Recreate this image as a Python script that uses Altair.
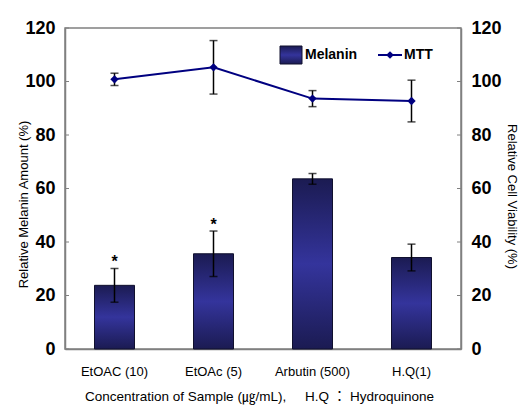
import altair as alt
import pandas as pd

categories = ["EtOAC (10)", "EtOAc (5)", "Arbutin (500)", "H.Q(1)"]
melanin = [23.8, 35.6, 63.6, 34.2]
melanin_err = [6.3, 8.5, 2.0, 5.0]
mtt = [100.8, 105.3, 93.6, 92.7]
mtt_err = [2.3, 10.0, 3.0, 7.8]
significant = ["*", "*", "", ""]
y_ticks = [0, 20, 40, 60, 80, 100, 120]

df = pd.DataFrame({
    "cat": categories,
    "melanin": melanin,
    "mel_lo": [m - e for m, e in zip(melanin, melanin_err)],
    "mel_hi": [m + e for m, e in zip(melanin, melanin_err)],
    "mtt": mtt,
    "mtt_lo": [m - e for m, e in zip(mtt, mtt_err)],
    "mtt_hi": [m + e for m, e in zip(mtt, mtt_err)],
    "sig": significant,
})
ticks_df = pd.DataFrame({"v": y_ticks})

NUM_FONT = "Liberation Sans, Arial"
TXT_FONT = "Liberation Sans, Noto Sans CJK KR, Arial"
AX = "#808080"
NAVY = "#000080"
NB = "\u00a0"

grad = alt.Gradient(
    gradient="linear", x1=0, x2=0, y1=0, y2=1,
    stops=[alt.GradientStop(color="#1b1b52", offset=0),
           alt.GradientStop(color="#34349c", offset=0.5),
           alt.GradientStop(color="#1b1b52", offset=1)],
)

yscale = alt.Scale(domain=[0, 120], nice=False, zero=True)

xenc = alt.X(
    "cat:N", sort=categories,
    scale=alt.Scale(paddingInner=0, paddingOuter=0),
    axis=alt.Axis(
        title="Concentration of Sample (㎍/mL)," + NB * 5 + "H.Q" + NB + "：" + NB + "Hydroquinone",
        labelAngle=0, labelFont=TXT_FONT, labelFontSize=13, labelColor="#000",
        labelPadding=16, ticks=False, domainColor=AX, domainWidth=1.5,
        titleFont=TXT_FONT, titleFontSize=13.5, titleFontWeight="normal",
        titleColor="#000", titlePadding=11, titleX=194,
    ),
)

base = alt.Chart(df).encode(x=xenc)

bars = base.mark_bar(size=40, color=grad, stroke="#10102e", strokeWidth=1).encode(
    y=alt.Y("melanin:Q", scale=yscale, axis=alt.Axis(
        title="Relative Melanin Amount (%)", values=y_ticks, ticks=False,
        grid=False, domainColor=AX, domainWidth=1.5,
        labelFont=NUM_FONT, labelFontSize=18, labelFontWeight="bold",
        labelColor="#000", labelPadding=10,
        titleFont=TXT_FONT, titleFontSize=13, titleFontWeight="normal",
        titleColor="#000", titleX=-42, titleY=176, titleBaseline="middle",
    ))
)
mel_rule = base.mark_rule(color="#000", strokeWidth=1.5).encode(
    y=alt.Y("mel_lo:Q", scale=yscale, axis=None), y2="mel_hi:Q")
mel_cap_hi = base.mark_tick(color="#000", size=8, thickness=1.5).encode(
    y=alt.Y("mel_hi:Q", scale=yscale, axis=None))
mel_cap_lo = base.mark_tick(color="#000", size=8, thickness=1.5).encode(
    y=alt.Y("mel_lo:Q", scale=yscale, axis=None))
stars = base.mark_text(font=TXT_FONT, fontSize=16, fontWeight="bold", dy=-6, color="#000").encode(
    y=alt.Y("mel_hi:Q", scale=yscale, axis=None), text="sig:N")

mtt_line = base.mark_line(color=NAVY, strokeWidth=2).encode(
    y=alt.Y("mtt:Q", scale=yscale, axis=alt.Axis(
        orient="right", title="Relative Cell Viability (%)", values=y_ticks,
        ticks=False, grid=False, domainColor=AX, domainWidth=1.5,
        labelFont=NUM_FONT, labelFontSize=18, labelFontWeight="bold",
        labelColor="#000", labelPadding=10,
        titleFont=TXT_FONT, titleFontSize=13, titleFontWeight="normal",
        titleColor="#000", titleX=50, titleY=168, titleAngle=90,
        titleBaseline="middle",
    )))
mtt_rule = base.mark_rule(color="#000", strokeWidth=1.5).encode(
    y=alt.Y("mtt_lo:Q", scale=yscale, axis=None), y2="mtt_hi:Q")
mtt_cap_hi = base.mark_tick(color="#000", size=8, thickness=1.5).encode(
    y=alt.Y("mtt_hi:Q", scale=yscale, axis=None))
mtt_cap_lo = base.mark_tick(color="#000", size=8, thickness=1.5).encode(
    y=alt.Y("mtt_lo:Q", scale=yscale, axis=None))
mtt_pts = base.mark_point(shape="diamond", filled=True, color=NAVY, size=70, opacity=1).encode(
    y=alt.Y("mtt:Q", scale=yscale, axis=None))

tick_base = alt.Chart(ticks_df)
left_ticks = tick_base.mark_rule(color=AX, strokeWidth=1).encode(
    y=alt.Y("v:Q", scale=yscale, axis=None), x=alt.value(0), x2=alt.value(4))
right_ticks = tick_base.mark_rule(color=AX, strokeWidth=1).encode(
    y=alt.Y("v:Q", scale=yscale, axis=None), x=alt.value(392), x2=alt.value(396))

# legend
leg_df = pd.DataFrame({"lab": ["Melanin", "MTT"]})
leg = alt.Chart(leg_df)
leg_rect = leg.transform_filter("datum.lab == 'Melanin'").mark_rect(
    color=grad, stroke="#10102e", strokeWidth=1).encode(
    x=alt.value(215), x2=alt.value(237), y=alt.value(18), y2=alt.value(36))
leg_txt1 = leg.transform_filter("datum.lab == 'Melanin'").mark_text(
    font=NUM_FONT, fontSize=14, fontWeight="bold", align="left", baseline="middle", color="#000").encode(
    x=alt.value(240), y=alt.value(27), text="lab:N")
leg_line = leg.transform_filter("datum.lab == 'MTT'").mark_rule(color=NAVY, strokeWidth=2).encode(
    x=alt.value(313), x2=alt.value(337), y=alt.value(27))
leg_pt = leg.transform_filter("datum.lab == 'MTT'").mark_point(
    shape="diamond", filled=True, color=NAVY, size=60, opacity=1).encode(
    x=alt.value(325), y=alt.value(27))
leg_txt2 = leg.transform_filter("datum.lab == 'MTT'").mark_text(
    font=NUM_FONT, fontSize=14, fontWeight="bold", align="left", baseline="middle", color="#000").encode(
    x=alt.value(339), y=alt.value(27), text="lab:N")

chart = alt.layer(
    bars, mel_rule, mel_cap_hi, mel_cap_lo, stars,
    mtt_line, mtt_rule, mtt_cap_hi, mtt_cap_lo, mtt_pts,
    left_ticks, right_ticks,
    leg_rect, leg_txt1, leg_line, leg_pt, leg_txt2,
).resolve_scale(y="independent").properties(
    width=396, height=321,
    autosize=alt.AutoSizeParams(type="none"),
    padding={"left": 65, "top": 28, "right": 58, "bottom": 56},
    background="white",
).configure_view(stroke=AX, strokeWidth=1.5)

chart.save("out.html", embed_options={"renderer": "svg", "actions": False})
